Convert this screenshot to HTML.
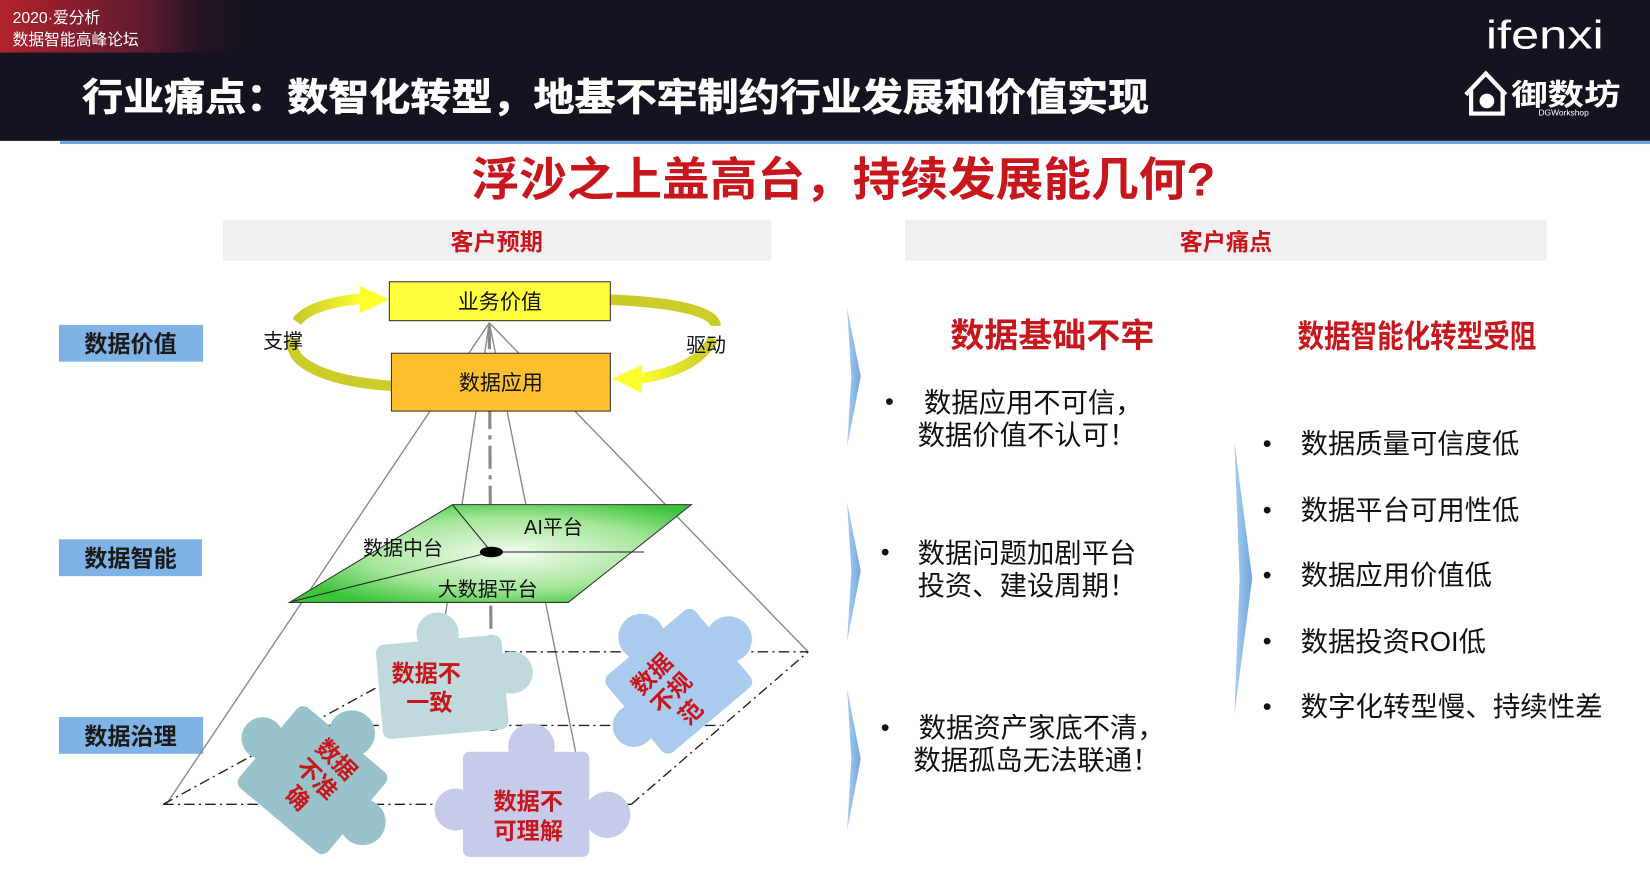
<!DOCTYPE html>
<html><head><meta charset="utf-8"><style>
html,body{margin:0;padding:0;background:#fff;width:1650px;height:880px;overflow:hidden}
svg{display:block}
text{font-family:"Liberation Sans","Noto Sans CJK SC",sans-serif}
</style></head><body>
<svg width="1650" height="880" viewBox="0 0 1568 837" preserveAspectRatio="none" xmlns="http://www.w3.org/2000/svg">
<defs>
<linearGradient id="tl" x1="0" x2="1" y1="0" y2="0"><stop offset="0" stop-color="#b3222c"/><stop offset="0.6" stop-color="#5a1a30"/><stop offset="1" stop-color="#14121f" stop-opacity="0"/></linearGradient>
<radialGradient id="gr" cx="0.55" cy="0.5" r="0.6"><stop offset="0" stop-color="#f2fbf0"/><stop offset="0.6" stop-color="#a6e69a"/><stop offset="1" stop-color="#3cc43a"/></radialGradient>
<linearGradient id="arL" x1="0" x2="1"><stop offset="0" stop-color="#c8c828"/><stop offset="1" stop-color="#ffff30"/></linearGradient>
<linearGradient id="arR" x1="1" x2="0"><stop offset="0" stop-color="#c8c828"/><stop offset="1" stop-color="#ffff30"/></linearGradient>
<linearGradient id="chev" x1="0" x2="1"><stop offset="0" stop-color="#a9cdf0"/><stop offset="1" stop-color="#6fa6de"/></linearGradient>
</defs>
<!-- header -->
<rect x="0" y="0" width="1568" height="134" fill="#15131f"/>
<rect x="0" y="0" width="240" height="50" fill="url(#tl)"/>
<text x="12" y="22" font-size="15" fill="#fff">2020·爱分析</text>
<text x="12" y="43" font-size="15" fill="#fff">数据智能高峰论坛</text>
<text x="78" y="105" font-size="36" font-weight="bold" fill="#fff" stroke="#fff" stroke-width="0.6" textLength="1014" lengthAdjust="spacingAndGlyphs">行业痛点：数智化转型，地基不牢制约行业发展和价值实现</text>
<text x="1412" y="46" font-size="38" fill="#fff" textLength="112" lengthAdjust="spacingAndGlyphs">ifenxi</text>
<path d="M1393 90 L1412 70 L1431 90 M1398 86 L1398 108 L1428 108 L1428 86" stroke="#fff" stroke-width="4" fill="none"/>
<circle cx="1413" cy="96" r="7" fill="#fff"/>
<text x="1436" y="100" font-size="28" font-weight="bold" fill="#fff" textLength="104" lengthAdjust="spacingAndGlyphs">御数坊</text>
<text x="1462" y="110" font-size="8" fill="#fff">DGWorkshop</text>
<rect x="57" y="134" width="1511" height="3" fill="#6ea5dc"/>
<!-- subtitle -->
<text x="448" y="186" font-size="44" font-weight="bold" fill="#c8161d" textLength="707" lengthAdjust="spacingAndGlyphs">浮沙之上盖高台，持续发展能几何?</text>
<rect x="212" y="209" width="521" height="39" fill="#f0f0f0"/>
<text x="472" y="238" font-size="22" font-weight="bold" fill="#c8161d" text-anchor="middle">客户预期</text>
<rect x="860" y="209" width="610" height="39" fill="#f0f0f0"/>
<text x="1165" y="238" font-size="22" font-weight="bold" fill="#c8161d" text-anchor="middle">客户痛点</text>
<!-- left labels -->
<rect x="56" y="309" width="137" height="35" fill="#7fb2e5"/>
<text x="124" y="335" font-size="22" font-weight="bold" fill="#1a1a1a" text-anchor="middle">数据价值</text>
<rect x="56" y="513" width="136" height="35" fill="#7fb2e5"/>
<text x="124" y="539" font-size="22" font-weight="bold" fill="#1a1a1a" text-anchor="middle">数据智能</text>
<rect x="56" y="682" width="137" height="35" fill="#7fb2e5"/>
<text x="124" y="708" font-size="22" font-weight="bold" fill="#1a1a1a" text-anchor="middle">数据治理</text>
<!-- pyramid lines -->
<g stroke="#888" stroke-width="1.3" fill="none">
<line x1="465" y1="307" x2="158" y2="765"/>
<line x1="465" y1="307" x2="768" y2="620"/>
<line x1="465" y1="307" x2="415" y2="640"/>
<line x1="465" y1="307" x2="550" y2="730"/>
</g>
<line x1="465" y1="310" x2="467" y2="690" stroke="#888" stroke-width="3" stroke-dasharray="22,6,4,6"/>
<!-- bottom plane -->
<g stroke="#222" stroke-width="1.3" fill="none" stroke-dasharray="10,4,2,4">
<line x1="155" y1="765" x2="600" y2="765"/>
<line x1="420" y1="620" x2="768" y2="620"/>
<line x1="155" y1="765" x2="420" y2="620"/>
<line x1="600" y1="765" x2="768" y2="620"/>
<line x1="290" y1="690" x2="685" y2="690"/>
</g>
<ellipse cx="467" cy="690" rx="11" ry="5" fill="#000"/>
<!-- puzzle pieces -->
<g transform="translate(425,650) rotate(-5)" fill="#bfd9dd">
<rect x="-65" y="-42" width="120" height="90" rx="8"/><circle cx="-5" cy="-48" r="20"/><circle cx="62" cy="-5" r="20"/>
</g>
<g transform="translate(645,648) rotate(-40)" fill="#aacbee">
<rect x="-55" y="-48" width="110" height="96" rx="8"/><circle cx="0" cy="-55" r="22"/><circle cx="62" cy="0" r="22"/><circle cx="-60" cy="5" r="20"/>
</g>
<g transform="translate(297,742) rotate(40)" fill="#98c3ca">
<rect x="-55" y="-50" width="110" height="100" rx="8"/><circle cx="0" cy="-58" r="22"/><circle cx="62" cy="0" r="22"/><circle cx="-62" cy="0" r="20"/>
</g>
<g transform="translate(505,765)" fill="#c7cbea">
<rect x="-65" y="-50" width="120" height="100" rx="6"/><circle cx="0" cy="-55" r="22"/><circle cx="-72" cy="5" r="20"/><circle cx="72" cy="10" r="22"/>
</g>
<g font-size="22" font-weight="bold" fill="#c8161d" text-anchor="middle">
<text x="405" y="648">数据不</text><text x="408" y="676">一致</text>
<text transform="translate(645,655) rotate(-45)" x="-8" y="-20">数据</text>
<text transform="translate(645,655) rotate(-45)" x="-8" y="6">不规</text>
<text transform="translate(645,655) rotate(-45)" x="-8" y="32">范</text>
<text transform="translate(300,742) rotate(45)" x="0" y="-20">数据</text>
<text transform="translate(300,742) rotate(45)" x="0" y="6">不准</text>
<text transform="translate(300,742) rotate(45)" x="0" y="32">确</text>
<text x="502" y="770">数据不</text><text x="502" y="798">可理解</text>
</g>
<!-- green plane -->
<polygon points="430,480 657,480 540,573 275,573" fill="url(#gr)" stroke="#333" stroke-width="1"/>
<g stroke="#222" stroke-width="1" fill="none">
<line x1="430" y1="480" x2="467" y2="525"/>
<line x1="467" y1="525" x2="278" y2="572"/>
<line x1="467" y1="525" x2="612" y2="525"/>
</g>
<ellipse cx="467" cy="525" rx="11" ry="5" fill="#000"/>
<text x="345" y="528" font-size="19" fill="#111">数据中台</text>
<text x="498" y="508" font-size="19" fill="#111">AI平台</text>
<text x="416" y="567" font-size="19" fill="#111">大数据平台</text>
<!-- arrows -->
<path d="M372 367 C300 362 270 340 280 322" stroke="#cccc28" stroke-width="10" fill="none"/>
<path d="M282 306 C292 292 320 286 345 284" stroke="url(#arL)" stroke-width="10" fill="none"/>
<polygon points="342,272 370,285 342,298" fill="#ffff30"/>
<path d="M580 285 C650 288 680 298 680 310" stroke="#cccc28" stroke-width="10" fill="none"/>
<path d="M678 322 C665 345 640 355 608 360" stroke="url(#arR)" stroke-width="10" fill="none"/>
<polygon points="610,347 582,360 610,374" fill="#ffff30"/>
<text x="250" y="331" font-size="19" fill="#111">支撑</text>
<text x="652" y="335" font-size="19" fill="#111">驱动</text>
<!-- boxes -->
<rect x="370" y="268" width="210" height="37" fill="#ffff3c" stroke="#333" stroke-width="1"/>
<text x="475" y="294" font-size="20" fill="#111" text-anchor="middle">业务价值</text>
<rect x="372" y="336" width="208" height="55" fill="#fdbf2d" stroke="#333" stroke-width="1"/>
<text x="476" y="371" font-size="20" fill="#111" text-anchor="middle">数据应用</text>
<!-- right chevrons -->
<polygon points="805,293 818,358 805,425 809,358" fill="url(#chev)"/>
<polygon points="805,478 818,543 805,610 809,543" fill="url(#chev)"/>
<polygon points="805,655 818,722 805,790 809,722" fill="url(#chev)"/>
<polygon points="1173,420 1190,550 1173,680 1178,550" fill="url(#chev)"/>
<text x="903" y="330" font-size="32" font-weight="bold" fill="#c8161d" textLength="194" lengthAdjust="spacingAndGlyphs">数据基础不牢</text>
<text x="1233" y="330" font-size="30" font-weight="bold" fill="#c8161d" textLength="227" lengthAdjust="spacingAndGlyphs">数据智能化转型受阻</text>
<g font-size="26" fill="#111">
<text x="841" y="390" font-size="24">•</text><text x="878" y="392">数据应用不可信，</text><text x="872" y="423">数据价值不认可！</text>
<text x="837" y="533" font-size="24">•</text><text x="872" y="535">数据问题加剧平台</text><text x="872" y="566">投资、建设周期！</text>
<text x="837" y="700" font-size="24">•</text><text x="873" y="701">数据资产家底不清，</text><text x="868" y="732">数据孤岛无法联通！</text>
<text x="1200" y="430" font-size="24">•</text><text x="1236" y="431">数据质量可信度低</text>
<text x="1200" y="493" font-size="24">•</text><text x="1236" y="494">数据平台可用性低</text>
<text x="1200" y="555" font-size="24">•</text><text x="1236" y="556">数据应用价值低</text>
<text x="1200" y="618" font-size="24">•</text><text x="1236" y="619">数据投资ROI低</text>
<text x="1200" y="680" font-size="24">•</text><text x="1236" y="681" textLength="287" lengthAdjust="spacingAndGlyphs">数字化转型慢、持续性差</text>
</g>
</svg>
</body></html>
